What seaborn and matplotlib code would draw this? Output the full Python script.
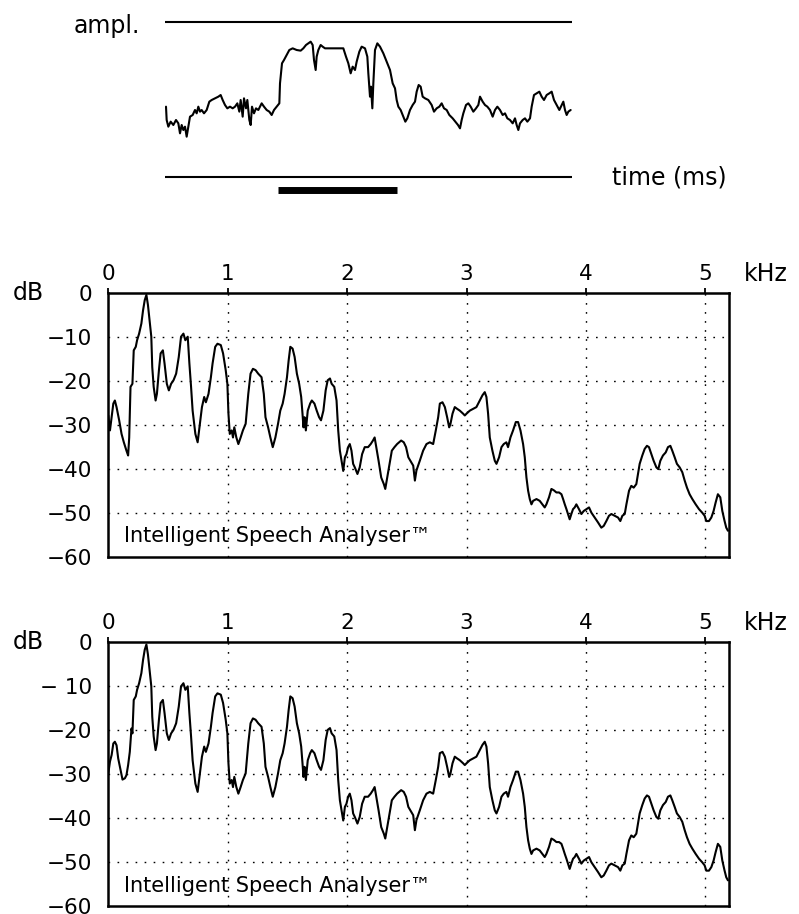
import seaborn as sns
import matplotlib.pyplot as plt

# waveform (top): time in ms, amplitude in arbitrary units
wave_t = [0.03, 0.05, 0.10, 0.17, 0.25, 0.33, 0.40, 0.45, 0.50, 0.55, 0.60, 0.65, 0.70, 0.75, 0.83,
          0.90, 0.95, 1.00, 1.05, 1.10, 1.17, 1.25, 1.33, 1.40, 1.50, 1.60, 1.67, 1.73, 1.80, 1.87,
          1.95, 2.03, 2.10, 2.17, 2.23, 2.27, 2.33, 2.37, 2.43, 2.47, 2.53, 2.57, 2.61, 2.67, 2.73,
          2.80, 2.90, 2.97, 3.05, 3.13, 3.20, 3.27, 3.35, 3.43, 3.45, 3.51, 3.57, 3.65, 3.73, 3.83,
          3.95, 4.07, 4.15, 4.23, 4.30, 4.37, 4.43, 4.47, 4.52, 4.55, 4.60, 4.67, 4.73, 4.80, 5.35,
          5.43, 5.50, 5.57, 5.63, 5.70, 5.75, 5.83, 5.90, 6.00, 6.07, 6.10, 6.15, 6.18, 6.22, 6.25,
          6.30, 6.37, 6.45, 6.55, 6.65, 6.75, 6.83, 6.90, 6.95, 7.00, 7.07, 7.15, 7.21, 7.27, 7.35,
          7.43, 7.50, 7.55, 7.61, 7.67, 7.73, 7.80, 7.90, 8.00, 8.07, 8.15, 8.23, 8.30, 8.37, 8.45,
          8.53, 8.63, 8.71, 8.79, 8.85, 8.90, 8.95, 9.03, 9.10, 9.17, 9.25, 9.33, 9.40, 9.45, 9.53,
          9.60, 9.67, 9.75, 9.83, 9.90, 9.97, 10.05, 10.13, 10.20, 10.27, 10.35, 10.43, 10.50, 10.55,
          10.60, 10.65, 10.73, 10.80, 10.87, 10.95, 11.00, 11.07, 11.15, 11.23, 11.30, 11.37, 11.45,
          11.53, 11.60, 11.67, 11.75, 11.83, 11.90, 11.95, 12.00, 12.05, 12.10, 12.17]
wave_amp = [2.14, 1.74, 1.54, 1.69, 1.59, 1.74, 1.64, 1.34, 1.59, 1.44, 1.54, 1.24, 1.54, 1.84, 1.89,
            2.04, 1.94, 2.14, 1.99, 2.04, 1.94, 2.04, 2.29, 2.34, 2.39, 2.44, 2.49, 2.34, 2.19, 2.09,
            2.14, 2.09, 2.14, 2.24, 1.99, 2.34, 1.84, 2.39, 2.09, 2.34, 1.74, 1.59, 2.14, 1.94, 2.09,
            2.04, 2.24, 2.14, 2.04, 1.99, 1.89, 2.04, 2.14, 2.24, 2.84, 3.44, 3.54, 3.69, 3.84, 3.89,
            3.84, 3.82, 3.89, 3.99, 4.04, 4.09, 3.99, 3.54, 3.24, 3.64, 3.84, 3.99, 3.94, 3.89, 3.89,
            3.64, 3.44, 3.14, 3.34, 3.24, 3.49, 3.79, 3.94, 3.89, 3.64, 3.14, 2.44, 2.74, 2.09, 2.84,
            3.84, 4.04, 3.94, 3.74, 3.49, 3.24, 2.84, 2.69, 2.34, 2.14, 2.04, 1.84, 1.69, 1.79, 2.04,
            2.19, 2.29, 2.59, 2.79, 2.74, 2.44, 2.39, 2.34, 2.19, 1.99, 2.09, 2.14, 2.24, 2.09, 2.04,
            1.89, 1.79, 1.69, 1.59, 1.49, 1.74, 1.94, 2.19, 2.24, 2.14, 1.99, 2.09, 2.19, 2.44, 2.29,
            2.19, 2.14, 2.04, 1.84, 2.04, 2.14, 2.04, 1.89, 1.94, 1.79, 1.74, 1.64, 1.79, 1.59,
            1.44, 1.64, 1.74, 1.79, 1.69, 1.79, 2.14, 2.49, 2.54, 2.59, 2.44, 2.34, 2.49,
            2.54, 2.59, 2.34, 2.19, 2.04, 2.19, 2.29, 2.04, 1.89, 1.99, 2.04]
marked_span = [3.39, 6.96]  # the thick bar under the time axis

# spectrum start (0 - 0.2 kHz), differs between the two panels
head_a_khz = [0.000, 0.014, 0.028, 0.042, 0.055, 0.069, 0.091, 0.111, 0.130, 0.152, 0.166, 0.175, 0.186]
head_a_db = [-27.9, -31.3, -28.3, -25.2, -24.5, -26.0, -29.0, -32.1, -34.0, -35.9, -37.0, -32.9, -21.4]
head_b_khz = [0.000, 0.014, 0.028, 0.042, 0.055, 0.069, 0.083, 0.102, 0.119, 0.139, 0.152, 0.166, 0.180, 0.194]
head_b_db = [-29.8, -27.1, -25.6, -23.0, -22.6, -23.4, -26.4, -29.0, -31.2, -30.9, -30.2, -27.9, -24.9, -19.6]

# rest of the spectrum (shared)
tail_khz = [0.202, 0.213, 0.230, 0.241, 0.258, 0.277, 0.291, 0.305, 0.319, 0.332, 0.352, 0.360, 0.368,
            0.380, 0.396, 0.407, 0.424, 0.438, 0.457, 0.471, 0.490, 0.507, 0.526, 0.546, 0.568, 0.590,
            0.609, 0.629, 0.645, 0.665, 0.679, 0.693, 0.706, 0.729, 0.748, 0.767, 0.784, 0.803, 0.817,
            0.839, 0.859, 0.873, 0.895, 0.914, 0.942, 0.961, 0.983, 0.997, 1.006, 1.017, 1.033, 1.044,
            1.055, 1.072, 1.089, 1.108, 1.127, 1.150, 1.172, 1.191, 1.211, 1.233, 1.255, 1.283, 1.302,
            1.316, 1.338, 1.357, 1.377, 1.399, 1.421, 1.440, 1.460, 1.476, 1.496, 1.510, 1.524, 1.543,
            1.560, 1.579, 1.598, 1.615, 1.626, 1.634, 1.643, 1.654, 1.670, 1.690, 1.704, 1.726, 1.745,
            1.765, 1.781, 1.801, 1.820, 1.837, 1.856, 1.870, 1.892, 1.911, 1.925, 1.939, 1.953, 1.967,
            1.981, 1.994, 2.008, 2.022, 2.036, 2.050, 2.064, 2.086, 2.105, 2.125, 2.147, 2.175, 2.197,
            2.216, 2.230, 2.244, 2.263, 2.285, 2.307, 2.319, 2.335, 2.355, 2.374, 2.396, 2.418, 2.452,
            2.474, 2.493, 2.512, 2.553, 2.567, 2.580, 2.608, 2.636, 2.664, 2.692, 2.720, 2.742, 2.762,
            2.776, 2.798, 2.818, 2.837, 2.854, 2.865, 2.882, 2.901, 2.921, 2.943, 2.971, 2.985, 2.999,
            3.027, 3.055, 3.082, 3.110, 3.133, 3.152, 3.166, 3.180, 3.194, 3.216, 3.236, 3.250, 3.272,
            3.292, 3.311, 3.333, 3.347, 3.367, 3.389, 3.412, 3.431, 3.451, 3.473, 3.487, 3.501, 3.515,
            3.529, 3.543, 3.557, 3.585, 3.612, 3.635, 3.654, 3.668, 3.690, 3.710, 3.730, 3.752, 3.774,
            3.794, 3.808, 3.822, 3.836, 3.849, 3.863, 3.877, 3.891, 3.905, 3.919, 3.941, 3.961, 3.981,
            4.003, 4.025, 4.045, 4.073, 4.100, 4.128, 4.148, 4.170, 4.192, 4.212, 4.240, 4.268, 4.287,
            4.304, 4.324, 4.338, 4.360, 4.379, 4.399, 4.421, 4.435, 4.449, 4.471, 4.491, 4.510, 4.527,
            4.547, 4.566, 4.589, 4.605, 4.622, 4.644, 4.667, 4.686, 4.706, 4.722, 4.742, 4.761, 4.784,
            4.806, 4.826, 4.845, 4.867, 4.890, 4.918, 4.946, 4.973, 4.993, 5.007, 5.029, 5.049, 5.068,
            5.085, 5.104, 5.124, 5.141, 5.160, 5.174, 5.188]
tail_db = [-20.7, -13.1, -12.3, -10.8, -9.3, -7.0, -4.0, -1.7, -0.5, -2.8, -7.8, -10.0, -16.9,
           -21.4, -24.5, -23.0, -17.6, -13.8, -13.1, -16.1, -20.7, -22.2, -20.7, -19.9, -18.4, -14.6,
           -10.0, -9.3, -10.8, -10.0, -16.1, -21.4, -26.8, -32.1, -34.0, -29.8, -26.0, -23.7, -24.9,
           -23.0, -19.2, -16.1, -12.3, -11.6, -11.9, -13.8, -17.6, -20.7, -27.5, -32.1, -31.3, -32.9,
           -30.6, -32.9, -34.4, -32.9, -31.3, -29.8, -23.0, -18.4, -17.3, -17.6, -18.4, -19.2, -23.0,
           -28.3, -30.6, -32.9, -35.1, -32.9, -29.8, -26.8, -25.2, -23.0, -19.2, -15.4, -12.3, -12.7,
           -14.6, -18.4, -20.7, -23.7, -27.5, -30.6, -28.3, -31.3, -26.8, -25.2, -24.5, -25.2, -26.8,
           -28.3, -29.0, -26.8, -22.2, -19.9, -19.5, -20.7, -21.4, -24.5, -31.3, -35.9, -38.2, -40.5,
           -37.4, -36.7, -35.1, -34.4, -35.9, -38.9, -39.7, -41.2, -39.7, -36.7, -35.1, -35.1, -34.4,
           -33.6, -32.9, -35.1, -38.2, -42.0, -43.5, -44.6, -42.0, -38.9, -35.9, -35.1, -34.4, -33.6,
           -34.0, -35.1, -37.4, -39.3, -42.7, -40.4, -38.2, -35.9, -34.4, -34.0, -34.4, -31.3, -28.3,
           -25.2, -24.9, -26.0, -28.3, -30.6, -29.8, -27.5, -26.0, -26.4, -26.8, -27.5, -27.9, -27.5,
           -26.8, -26.4, -26.0, -24.5, -23.3, -22.6, -23.7, -27.5, -32.9, -35.9, -38.2, -38.9, -37.4,
           -35.1, -34.4, -34.0, -35.1, -32.9, -31.3, -29.4, -29.4, -31.3, -34.4, -37.4, -42.0, -45.0,
           -46.9, -48.1, -47.3, -46.9, -47.3, -48.1, -48.8, -48.1, -46.5, -44.6, -44.9, -45.4, -45.4,
           -45.8, -46.9, -48.1, -49.2, -50.3, -51.5, -50.3, -49.2, -48.8, -48.1, -49.2, -50.3, -49.6,
           -49.2, -48.8, -50.0, -51.1, -52.2, -53.4, -53.0, -51.9, -50.7, -50.3, -50.7, -51.1, -51.9,
           -50.7, -50.3, -48.1, -45.0, -43.9, -44.3, -43.5, -41.2, -38.9, -37.0, -35.5, -34.8, -35.1,
           -36.7, -38.2, -39.7, -40.1, -38.2, -37.0, -36.3, -35.1, -34.8, -35.9, -37.4, -38.9, -39.7,
           -40.8, -42.7, -44.3, -45.8, -46.9, -48.1, -49.2, -50.0, -50.7, -51.9, -51.9, -51.1, -49.6,
           -47.7, -45.8, -46.5, -49.6, -51.9, -53.4, -54.1]

freq_ticks = [0, 1, 2, 3, 4, 5]
db_ticks = [0, -10, -20, -30, -40, -50, -60]
db_labels_a = ["0", "\u221210", "\u221220", "\u221230", "\u221240", "\u221250", "\u221260"]
db_labels_b = ["0", "\u2212 10", "\u221220", "\u221230", "\u221240", "\u221250", "\u221260"]

sns.set_style("white")
plt.rcParams["font.family"] = ["DejaVu Sans"]
plt.rcParams["text.color"] = "black"

W, H = 799, 914
fig = plt.figure(figsize=(W / 100, H / 100), dpi=100)


def fig_box(x0, y0, x1, y1):
    return [x0 / W, 1 - y1 / H, (x1 - x0) / W, (y1 - y0) / H]


# 波形
ax_w = fig.add_axes(fig_box(165, 15, 572, 195))
sns.lineplot(x=wave_t, y=wave_amp, ax=ax_w, color="black", lw=1.5, estimator=None, sort=False)
ax_w.set_xlim(0, 12.21)
ax_w.set_ylim(-0.51, 4.89)
ax_w.axhline(0.04, color="black", lw=1.5)
ax_w.axhline(4.69, color="black", lw=1.5)
ax_w.plot(marked_span, [-0.345, -0.345], color="black", lw=5, solid_capstyle="butt", clip_on=False)
ax_w.axis("off")
fig.text(140 / W, 1 - 26 / H, "ampl.", ha="right", va="center", fontsize=17)
fig.text(612 / W, 1 - 178 / H, "time (ms)", ha="left", va="center", fontsize=17)

dots = (0, (1.2, 5.3))


def draw_spectrum(top, freq, db, labels):
    ax = fig.add_axes(fig_box(108.3, top, 729, top + 264))
    sns.lineplot(x=freq, y=db, ax=ax, color="black", lw=1.5, estimator=None, sort=False)
    ax.set_xlim(0, 5.197)
    ax.set_ylim(-60, 0)
    ax.xaxis.tick_top()
    ax.set_xticks(freq_ticks)
    ax.set_xticklabels([str(v) for v in freq_ticks])
    ax.set_yticks(db_ticks)
    ax.set_yticklabels(labels)
    ax.tick_params(axis="x", direction="out", length=3.6, width=1.3, pad=3, labelsize=15.5, colors="black")
    ax.tick_params(axis="y", direction="out", length=3.6, width=1.3, pad=8, labelsize=15.5, colors="black")
    for v in freq_ticks[1:]:
        ax.axvline(v, color="black", lw=1.0, ls=dots)
    for h in db_ticks[1:-1]:
        ax.axhline(h, color="black", lw=1.0, ls=dots)
    for s in ax.spines.values():
        s.set_color("black")
        s.set_linewidth(1.8)
    ax.set_xlabel("")
    ax.set_ylabel("")
    ax.text(0.13, -55.3, "Intelligent Speech Analyser\u2122", fontsize=15, va="center", ha="left")
    fig.text(13 / W, 1 - top / H, "dB", ha="left", va="center", fontsize=17)
    fig.text(744 / W, 1 - (top - 19) / H, "kHz", ha="left", va="center", fontsize=17)
    return ax


draw_spectrum(292.7, head_a_khz + tail_khz, head_a_db + tail_db, db_labels_a)
draw_spectrum(642.3, head_b_khz + tail_khz, head_b_db + tail_db, db_labels_b)

fig.savefig("out.png", dpi=100)
